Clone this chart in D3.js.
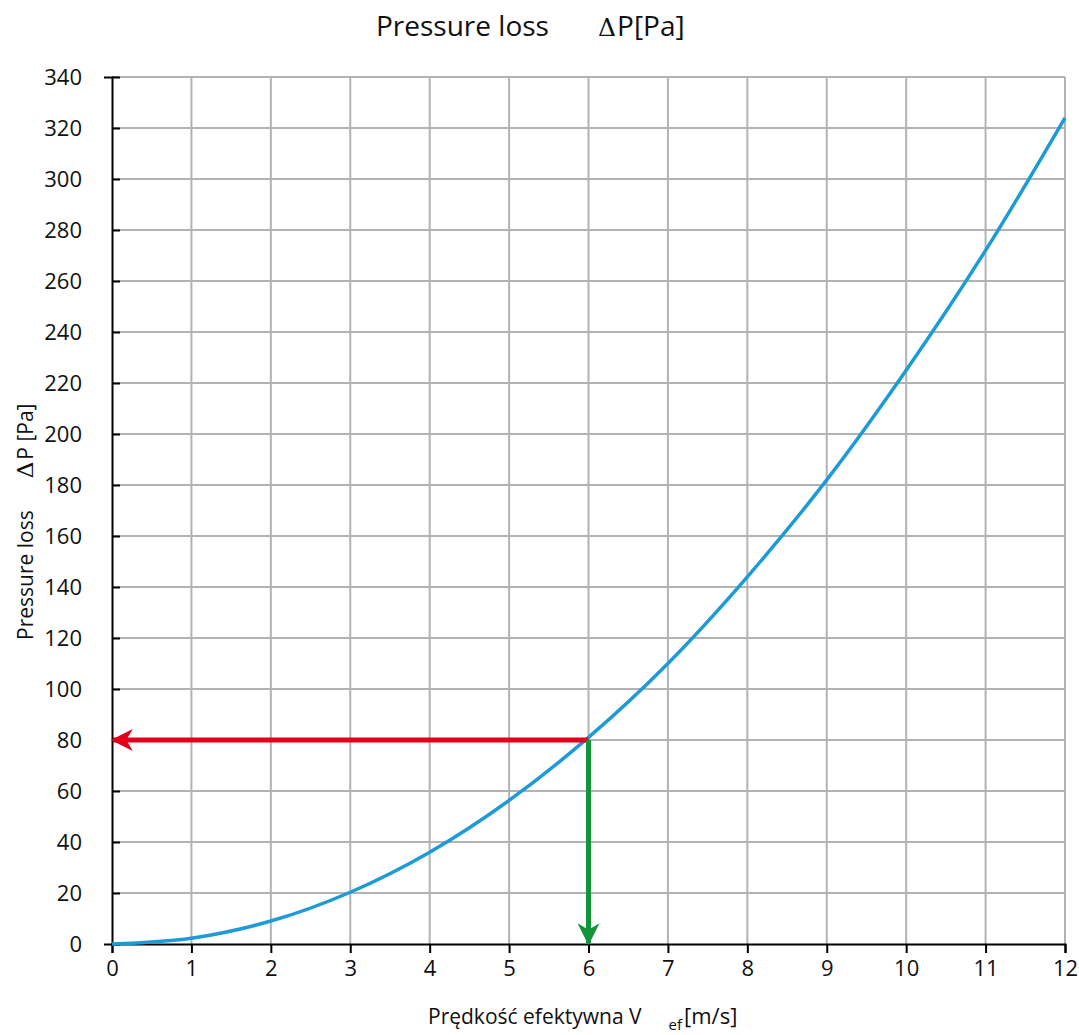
<!DOCTYPE html>
<html>
<head>
<meta charset="utf-8">
<script src="https://cdn.jsdelivr.net/npm/d3@7"></script>
<style>
  body { margin: 0; background: #fff; }
  svg text { font-family: "Open Sans", sans-serif; fill: #111; }
</style>
</head>
<body>
<svg id="chart" width="1079" height="1035"></svg>
<script>
// velocity [m/s] and pressure loss [Pa]
const velocity = [0, 1, 2, 3, 4, 5, 6, 7, 8, 9, 10, 11, 12];
const pressure = [0, 2.25, 9, 20.3, 36, 56.3, 81, 110, 144, 182, 225, 272, 324];
const xTicks = d3.range(0, 13);
const yTicks = d3.range(0, 341, 20);
// reading marker: v = 6 m/s -> 80 Pa
const readV = 6;
const readP = 80;

const svg = d3.select('#chart');
const margin = { left: 112, right: 14, top: 77, bottom: 91 };
const W = 1079, H = 1035;

const x = d3.scaleLinear().domain([0, 12]).range([margin.left, W - margin.right]);
const y = d3.scaleLinear().domain([0, 340]).range([H - margin.bottom, margin.top]);

// grid
svg.append('g').selectAll('line.v')
  .data(xTicks.slice(1))
  .join('line')
  .attr('x1', d => x(d)).attr('x2', d => x(d))
  .attr('y1', y(0)).attr('y2', y(340))
  .attr('stroke', '#b3b3b3').attr('stroke-width', 2);
svg.append('g').selectAll('line.h')
  .data(yTicks.slice(1))
  .join('line')
  .attr('x1', x(0)).attr('x2', x(12))
  .attr('y1', d => y(d)).attr('y2', d => y(d))
  .attr('stroke', '#b3b3b3').attr('stroke-width', 2);

// axes
const xAxis = svg.append('g')
  .attr('transform', `translate(0,${y(0)})`)
  .call(d3.axisBottom(x).tickValues(xTicks).tickSize(9).tickPadding(7).tickFormat(d3.format('d')));
const yAxis = svg.append('g')
  .attr('transform', `translate(${x(0)},0)`)
  .call(d3.axisLeft(y).tickValues(yTicks).tickSize(8).tickPadding(22).tickFormat(d3.format('d')));
yAxis.selectAll('.tick line').attr('x2', 8);
[xAxis, yAxis].forEach(a => {
  a.select('.domain').attr('stroke', '#000').attr('stroke-width', 2);
  a.selectAll('.tick line').attr('stroke', '#000').attr('stroke-width', 2);
  a.selectAll('.tick text').style('font-size', '22px').style('font-family', '"Open Sans", sans-serif').attr('fill', '#111');
});

// curve
const line = d3.line()
  .x((d, i) => x(velocity[i]))
  .y(d => y(d))
  .curve(d3.curveMonotoneX);
svg.append('path')
  .datum(pressure)
  .attr('d', line)
  .attr('fill', 'none')
  .attr('stroke', '#1e9bd7')
  .attr('stroke-width', 3.5);

// arrows
const defs = svg.append('defs');
function marker(id, color) {
  defs.append('marker')
    .attr('id', id)
    .attr('viewBox', '0 0 10 10')
    .attr('refX', 9).attr('refY', 5)
    .attr('markerUnits', 'userSpaceOnUse')
    .attr('markerWidth', 32).attr('markerHeight', 22)
    .attr('orient', 'auto')
    .append('path')
    .attr('d', 'M0,0 L10,5 L0,10 L3,5 Z')
    .attr('fill', color);
}
marker('arrRed', '#e2001a');
marker('arrGreen', '#12953a');

svg.append('line')
  .attr('x1', x(readV)).attr('y1', y(readP))
  .attr('x2', x(0) + 1).attr('y2', y(readP))
  .attr('stroke', '#e2001a').attr('stroke-width', 5)
  .attr('marker-end', 'url(#arrRed)');
svg.append('line')
  .attr('x1', x(readV)).attr('y1', y(readP))
  .attr('x2', x(readV)).attr('y2', y(0) - 1)
  .attr('stroke', '#12953a').attr('stroke-width', 5)
  .attr('marker-end', 'url(#arrGreen)');

// title
const title = svg.append('text')
  .attr('x', 376).attr('y', 36)
  .style('font-size', '28px');
title.append('tspan').text('Pressure loss');
title.append('tspan').attr('x', 598).style('font-family', '"DejaVu Serif", serif').style('font-size', '25px').text('Δ');
title.append('tspan').attr('dx', 1).text('P[Pa]');

// y label
const yl = svg.append('text')
  .attr('transform', 'translate(33,640) rotate(-90)')
  .style('font-size', '21px');
yl.append('tspan').text('Pressure loss');
yl.append('tspan').attr('dx', 32).style('font-family', '"DejaVu Serif", serif').style('font-size', '23px').text('Δ');
yl.append('tspan').attr('dx', 2).text('P [Pa]');

// x label
const xl = svg.append('text')
  .attr('x', 428).attr('y', 1024)
  .style('font-size', '21px');
xl.append('tspan').text('Prędkość efektywna V');
xl.append('tspan').attr('dx', 27).attr('dy', 6).style('font-size', '15px').text('ef');
xl.append('tspan').attr('dx', 2).attr('dy', -6).style('font-size', '22px').text('[m/s]');
</script>
</body>
</html>
